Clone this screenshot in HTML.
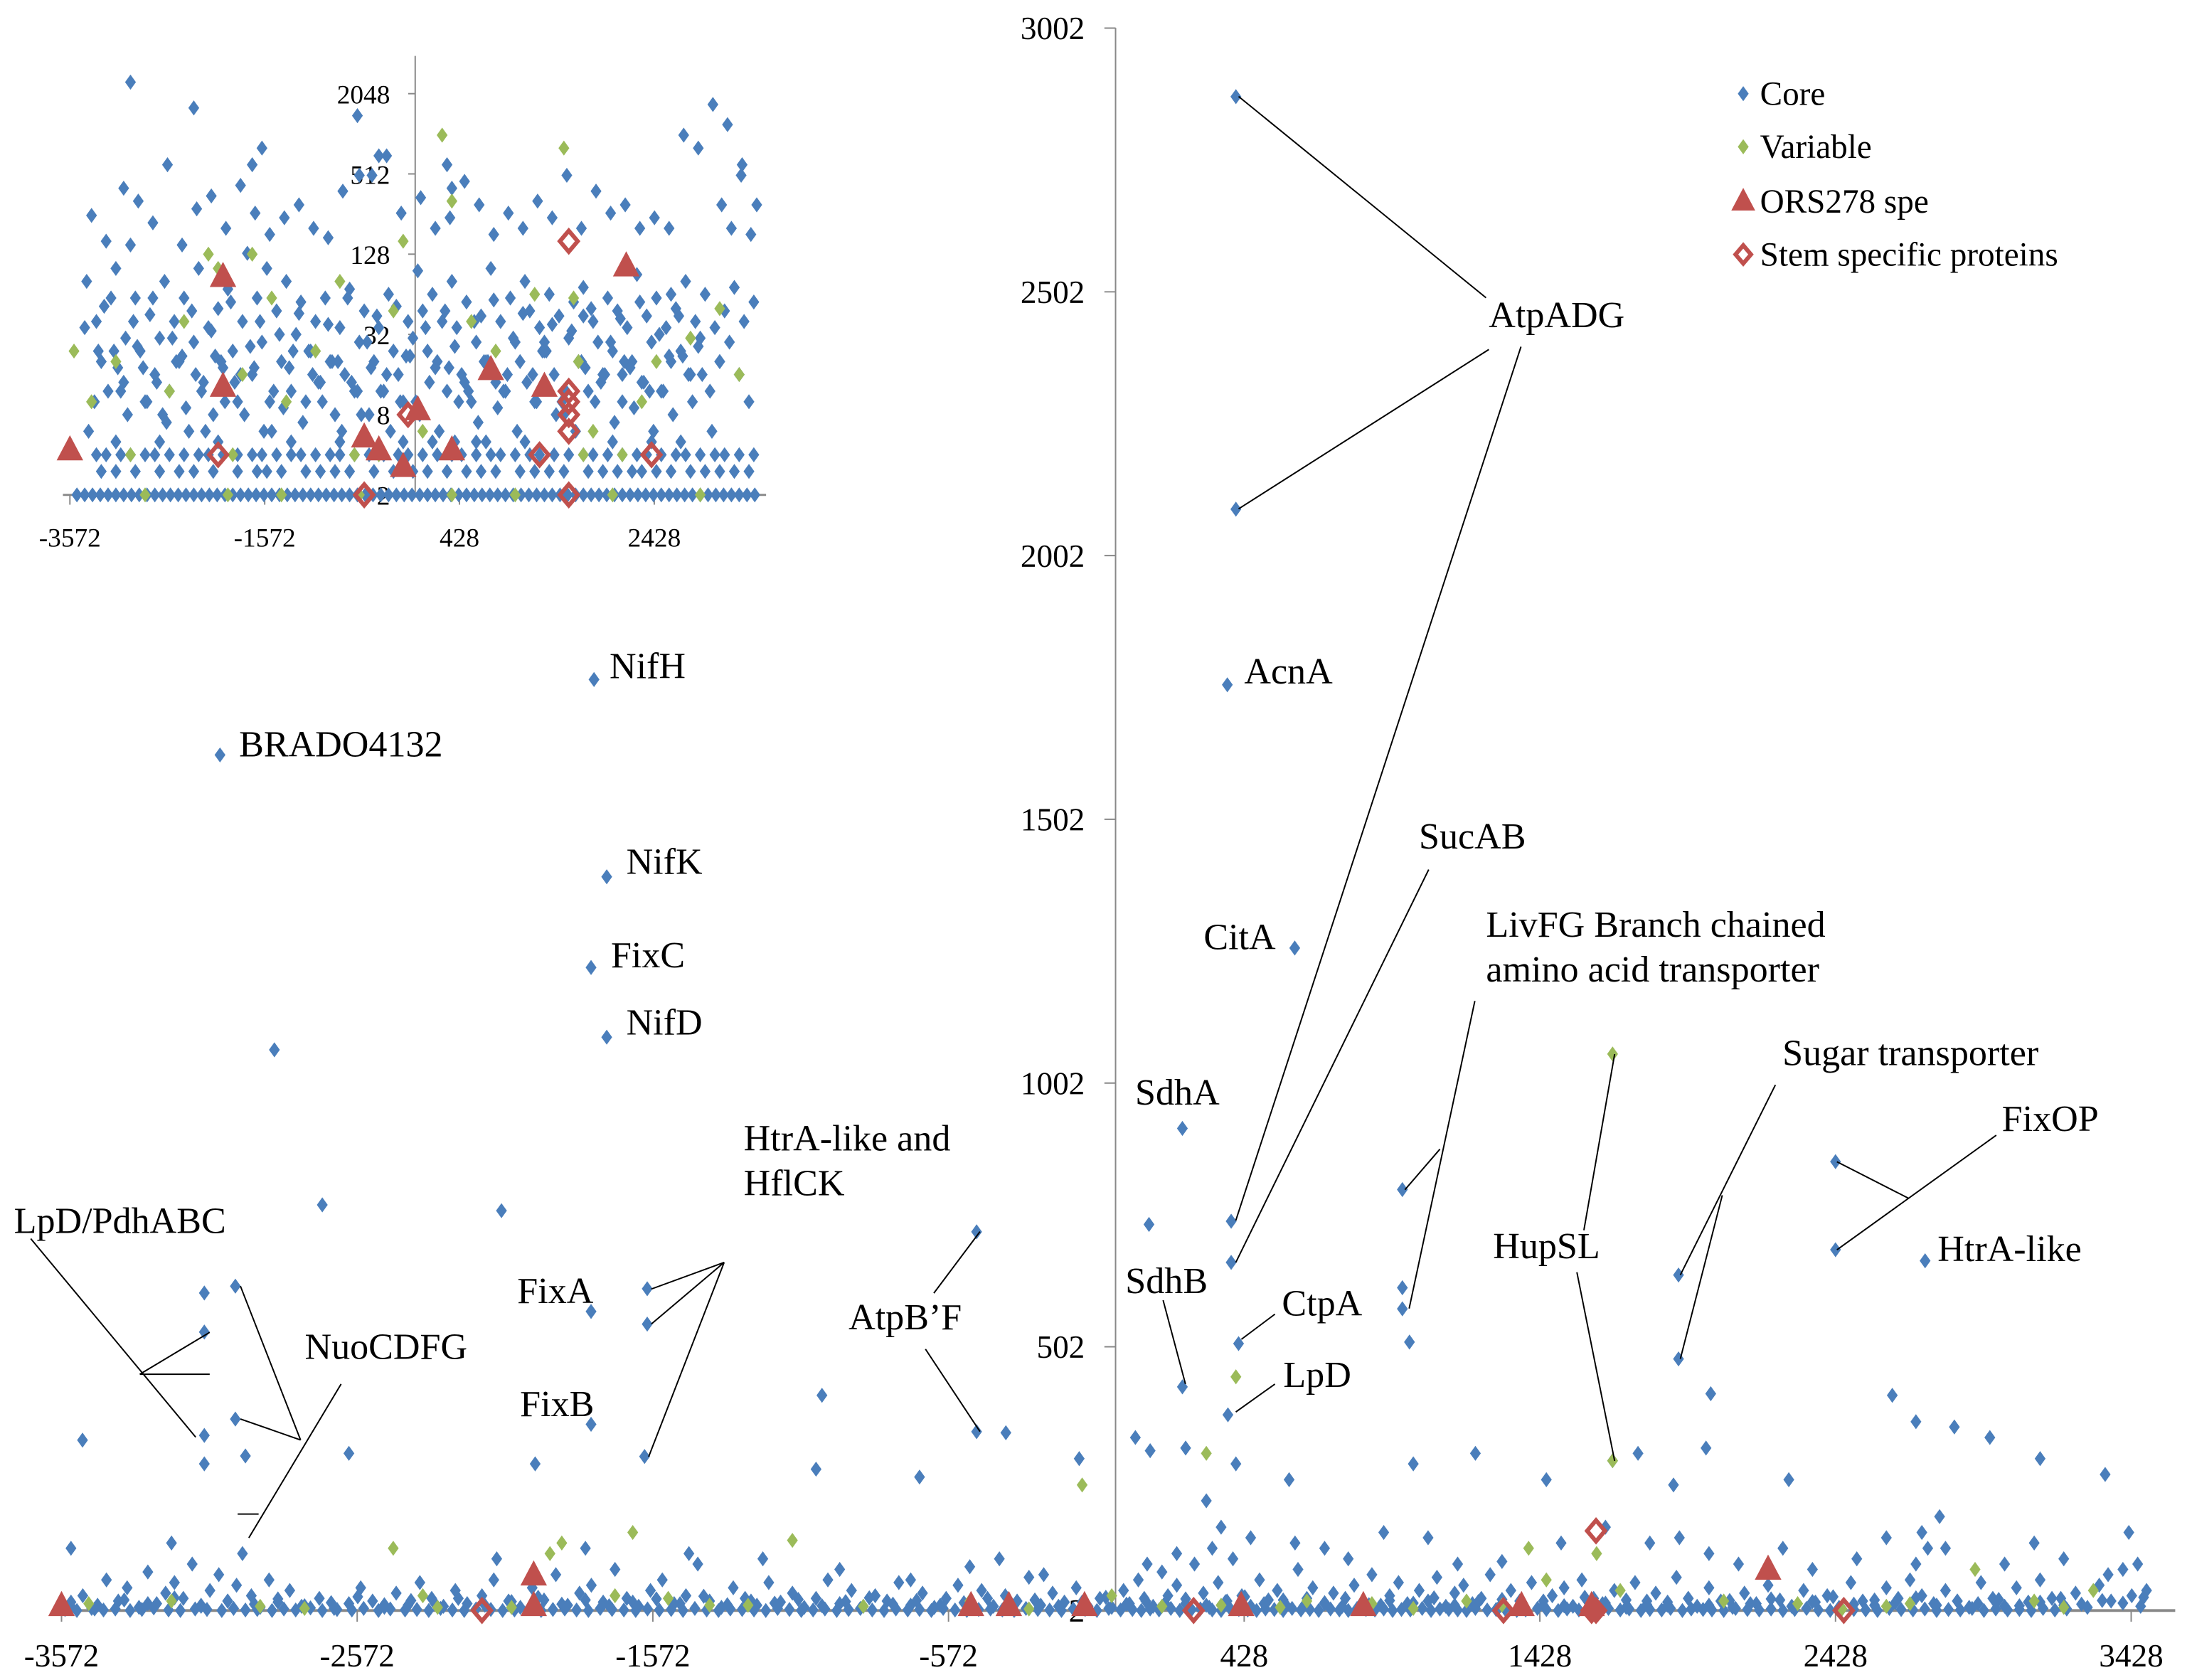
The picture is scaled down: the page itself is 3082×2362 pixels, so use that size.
<!DOCTYPE html>
<html><head><meta charset="utf-8"><title>Proteomics scatter</title>
<style>
html,body{margin:0;padding:0;background:#fff;}
svg{display:block;font-family:"Liberation Serif",serif;}
</style></head>
<body>
<svg id="chart" width="3082" height="2362" viewBox="0 0 1568 1201.7" xmlns="http://www.w3.org/2000/svg">
<g id="main-axes"></g>
<g id="main-marks"></g>
<g id="inset"></g>
<g id="annot"></g>
<g id="legend"></g>
</svg>
<script>
// ---------- MAIN CHART DATA ----------
const xTicks = [-3572,-2572,-1572,-572,428,1428,2428,3428];
const yTicks = [2,502,1002,1502,2002,2502,3002];
const coreHighX = [400,400,371,599,-1771,-3036,-1728,-1781,-1728,-2852,219,2428,2428,2731,106,-2690,-2084,-1591,-1591,-1600,-1781,-1781,-477,-477,-378,-3089,-3089,-3089,-3089,-2984,-2984,219,409,373,963,963,963,987,1674,1897,1897,2006,384,384];
const coreHighY = [2872,2090,1757,1258,1767,1624,1393,1221,1089,1065,916,853,686,665,734,771,760,612,545,294,569,355,720,341,339,604,530,334,280,617,365,426,508,373,800,614,574,511,286,638,479,413,740,662];
const coreMidX = [-3501,-2950,-2600,-1970,-1000,-1020,-670,-130,60,110,230,300,400,580,1000,1210,1450,1760,1880,1990,2270,2620,2700,2830,2950,3120,3340,-3540,-3200,-2100,-1800,-1450,-1200,-940,-700,-500,-400,-250,100,200,320,350,450,600,700,780,900,1050,1150,1300,1500,1650,1800,1900,2000,2100,2250,2350,2500,2600,2720,2780,2800,3000,3100,3200,3350,3420,3450];
const coreMidY = [325,295,300,280,410,270,255,290,330,305,310,210,280,250,280,300,250,300,240,310,250,410,360,350,330,290,260,120,130,100,120,110,100,80,60,85,100,70,90,110,120,160,140,130,120,100,150,140,90,95,130,160,130,140,110,90,120,80,100,140,150,180,120,90,130,100,70,150,90];
const coreLowX = [-3540,-3500,-3460,-3420,-3380,-3350,-3310,-3280,-3250,-3220,-3190,-3160,-3130,-3100,-3070,-3040,-3010,-2980,-2960,-2930,-2900,-2870,-2840,-2800,-2760,-2700,-2650,-2600,-2560,-2520,-2480,-2440,-2400,-2360,-2320,-2280,-2240,-2200,-2150,-2110,-2060,-2020,-1980,-1940,-1900,-1860,-1820,-1780,-1740,-1700,-1660,-1620,-1580,-1540,-1500,-1460,-1420,-1380,-1340,-1300,-1260,-1220,-1180,-1140,-1100,-1060,-1020,-980,-940,-900,-860,-820,-780,-740,-700,-660,-620,-580,-540,-500,-460,-420,-380,-340,-300,-260,-220,-180,-140,-100,-60,-20,20,40,70,90,120,150,170,200,230,260,290,310,340,370,390,420,450,480,510,540,570,610,640,660,700,730,760,800,830,860,890,920,950,980,1020,1050,1080,1110,1140,1170,1200,1230,1260,1290,1330,1360,1400,1440,1470,1510,1540,1570,1610,1640,1680,1720,1750,1790,1820,1860,1890,1930,1960,2000,2040,2080,2120,2160,2200,2240,2280,2320,2360,2400,2440,2480,2520,2560,2600,2640,2680,2700,2720,2740,2760,2800,2840,2880,2920,2960,3000,3040,3080,3120,3160,3200,3240,3280,3320,3360,3400,3430,3460,3480];
const coreLowY = [10,30,5,60,20,45,8,75,15,35,55,25,90,12,40,70,20,50,110,30,8,60,18,40,10,25,6,15,45,20,8,35,12,55,25,10,40,15,30,60,20,8,45,22,70,12,35,50,18,80,25,10,40,60,15,30,90,20,8,45,25,12,55,18,35,8,25,60,15,40,10,30,20,55,12,35,8,25,50,15,40,10,30,20,65,12,35,18,45,10,25,8,40,15,60,25,10,75,30,50,15,90,35,8,55,20,100,30,10,60,22,40,12,80,25,45,15,35,10,50,20,70,12,30,55,15,40,20,65,10,35,50,15,25,70,8,40,20,55,12,30,45,10,60,25,15,40,8,55,20,35,12,65,25,10,45,20,8,35,15,50,22,10,40,18,30,8,55,20,12,45,25,60,90,30,120,15,40,20,8,55,25,10,45,18,60,25,12,35,8,50,20,80,30,10,40];
const coreBaseX = [-3560,-3520,-3470,-3430,-3390,-3340,-3300,-3260,-3210,-3170,-3120,-3080,-3030,-2990,-2950,-2910,-2860,-2820,-2780,-2730,-2690,-2640,-2590,-2550,-2500,-2460,-2410,-2370,-2330,-2290,-2250,-2210,-2170,-2120,-2080,-2040,-1990,-1950,-1910,-1870,-1830,-1790,-1750,-1710,-1670,-1630,-1590,-1550,-1510,-1470,-1430,-1390,-1350,-1310,-1270,-1230,-1190,-1150,-1110,-1070,-1030,-990,-950,-910,-870,-830,-790,-750,-710,-670,-630,-590,-550,-510,-470,-430,-390,-350,-310,-270,-230,-190,-150,-110,-70,-30,10,50,80,110,140,180,210,250,280,320,350,380,410,440,470,500,530,560,590,620,650,680,720,750,780,810,840,870,900,930,960,990,1030,1060,1090,1120,1150,1180,1210,1250,1280,1310,1350,1380,1420,1450,1490,1520,1560,1590,1630,1660,1700,1730,1770,1800,1840,1870,1910,1940,1980,2010,2050,2090,2130,2170,2210,2250,2290,2330,2370,2410,2450,2490,2530,2570,2610,2650,2690,2730,2770,2810,2850,2890,2930,2970,3010,3050,3090,3130,3170,3210,3250,3290,3330,3370,3410,3450,3490];
const coreBaseY = [4,2,6,3,5,2,4,7,3,2,5,4,2,6,3,4,2,5,3,7,2,4,3,6,2,5,3,4,2,6,3,2,5,4,2,3,6,2,4,5,3,2,6,4,3,2,5,3,4,2,6,3,2,5,4,3,2,6,4,2,3,5,2,4,6,3,2,5,3,4,2,6,3,2,4,5,3,2,6,4,3,2,5,4,2,6,3,4,2,5,3,6,2,4,5,3,2,6,4,3,2,5,4,2,6,3,4,2,5,3,2,6,4,3,5,2,4,3,6,2,5,4,3,2,6,3,4,5,2,3,6,4,2,5,3,4,2,6,3,5,2,4,3,6,2,5,4,3,2,6,4,3,5,2,4,6,3,2,5,4,3,2,6,4,3,5,2,4,3,6,2,5,3,4,2,6,3,5];
const coreBase2X = [-3540,-3450,-3360,-3280,-3190,-3100,-3010,-2920,-2840,-2750,-2660,-2570,-2480,-2390,-2310,-2230,-2140,-2050,-1960,-1880,-1800,-1720,-1640,-1560,-1480,-1400,-1320,-1240,-1160,-1080,-1000,-920,-840,-760,-680,-600,-520,-440,-360,-280,-200,-120,-40,30,95,160,230,300,365,430,495,560,630,700,770,850,920,1000,1070,1140,1220,1300,1370,1440,1510,1580,1650,1720,1790,1860,1930,2000,2070,2140,2210,2280,2350,2420,2490,2560,2630,2700,2770,2840,2910,2980,3050,3120,3190,3260,3330,3400,3470];
const coreBase2Y = [18,12,22,15,26,10,20,14,24,11,17,28,13,21,16,25,12,19,27,14,22,11,18,24,15,29,13,20,16,23,11,19,26,14,21,12,17,25,15,22,10,18,27,14,20,16,24,12,19,28,15,22,11,17,25,13,21,16,26,12,19,23,14,20,11,27,16,22,13,18,25,12,21,15,24,10,19,28,14,22,17,26,12,20,15,23,11,18,25,14,21,16,27];
const varX = [-3480,-3200,-2450,-2300,-1920,-1880,-1640,-1520,-1380,-1100,-860,-120,-20,300,350,640,860,1180,1390,1620,1674,1674,1700,2050,2300,2680,2900,3100,3300,400,-2350,1450,-500,-1700,-2900,-2750,-2050,-1250,-300,150,550,1000,1300,2450,2600,3200];
const varY = [15,20,120,8,110,130,150,25,12,135,10,240,30,300,12,20,15,20,120,110,1057,286,40,20,15,15,80,20,40,445,30,60,20,30,10,6,8,12,5,10,8,6,12,5,10,8];
const oriX = [-3572,-1975,-1975,-496,-368,-112,418,831,1366,1603,2200];
const oriY = [2,60,2,2,2,2,2,2,2,2,71];
const stemX = [-2150,257,1305,1603,1618,1618,2456];
const stemY = [2,2,2,2,153,2,2];

// ---------- INSET DATA (log2 y) ----------
const insetXTicks = [-3572,-1572,428,2428];
const insetYTicks = [2,8,32,128,512,2048];
const inCoreX = [-3400,-3300,-3250,-3150,-3100,-3050,-3000,-2950,-2900,-2850,-2800,-2750,-2700,-2650,-2600,-2550,-2500,-2450,-2400,-2350,-2300,-2250,-2200,-2150,-2100,-2050,-2000,-1950,-1900,-1850,-1800,-1750,-1700,-1650,-1600,-1550,-1500,-1450,-1400,-1350,-1300,-1250,-1200,-1150,-1100,-1050,-1000,-950,-900,-850,-800,-750,-700,-650,-600,-550,-500,-450,-400,-350,-300,-250,-200,-150,-100,-50,0,50,100,150,200,250,300,350,400,450,500,550,600,650,700,750,800,850,900,950,1000,1050,1100,1150,1200,1250,1300,1350,1400,1450,1500,1550,1600,1650,1700,1750,1800,1850,1900,1950,2000,2050,2100,2150,2200,2250,2300,2350,2400,2450,2500,2550,2600,2650,2700,2750,2800,2850,2900,2950,3000,3050,3100,3150,3200,3250,3300,3350,3400,3450,-3380,-3280,-3180,-3080,-2980,-2880,-2780,-2680,-2580,-2480,-2380,-2280,-2180,-2080,-1980,-1880,-1780,-1680,-1580,-1480,-1380,-1280,-1180,-1080,-980,-880,-780,-680,-580,-480,-380,-280,-180,-80,20,120,220,320,420,520,620,720,820,920,1020,1120,1220,1320,1420,1520,1620,1720,1820,1920,2020,2120,2220,2320,2420,2520,2620,2720,2820,2920,3020,3120,3220,3320,3420,-3350,-3200,-3020,-2870,-2720,-2570,-2420,-2270,-2120,-1970,-1820,-1670,-1520,-1370,-1220,-1070,-920,-770,-620,-470,-320,-170,30,180,330,480,630,780,930,1080,1230,1380,1530,1680,1830,1980,2130,2280,2430,2580,2730,2880,3030,3180,3330,3480,-2950,-2300,-1700,-1600,-600,-400,300,350,380,700,1100,2000,2400,2700,-3100,-2650,-2050,-1300,-800,-150,150,600,900,1300,1700,2100,2600,3100,-3420,-3320,-3220,-3120,-3020,-2920,-2820,-2720,-2620,-2520,-2420,-2320,-2220,-2120,-2020,-1920,-1820,-1720,-1620,-1520,-1420,-1320,-1220,-1120,-1020,-920,-820,-720,-620,-520,-420,-320,-220,-120,-20,80,180,280,380,480,580,680,780,880,980,1080,1180,1280,1380,1480,1580,1680,1780,1880,1980,2080,2180,2280,2380,2480,2580,2680,2780,2880,2980,3080,3180,3280,3380,3480];
const inCoreY = [80,40,20,60,100,12,30,150,60,24,10,45,16,30,80,12,40,20,60,6,28,100,14,36,8,50,18,70,24,10,40,130,16,60,28,100,6,48,20,80,12,32,56,10,24,40,14,60,20,8,36,16,70,12,28,48,8,20,36,12,64,24,16,10,40,30,96,48,24,64,20,40,12,80,36,16,56,10,28,44,20,100,14,40,12,60,28,20,80,48,10,36,24,64,16,44,8,30,56,20,72,12,40,28,16,60,24,48,10,36,20,90,14,44,28,60,12,36,20,50,24,80,16,40,30,64,12,36,20,48,28,72,16,40,10,56,6,24,12,18,8,26,10,14,7,20,9,16,6,22,10,14,8,18,6,12,9,24,7,16,10,20,6,14,8,18,12,6,10,22,8,14,6,18,10,12,7,20,9,16,6,14,10,24,8,12,6,18,10,16,7,20,9,14,6,12,8,22,10,16,6,300,200,500,180,250,160,400,320,220,600,150,280,350,200,420,260,180,240,300,200,170,380,1400,500,700,260,340,200,240,450,300,180,260,200,320,240,500,200,380,260,300,200,240,200,1000,800,1700,1200,600,300,2500,1600,600,800,500,700,600,400,5,5,5,5,5,5,5,5,5,5,5,5,5,5,12,28,44,16,64,20,36,10,52,24,14,40,18,60,8,30,22,48,12,34,20,56,16,26,40,10,32,18,46,24,14,38,20,60,12,28,44,16,52,22,10,36,18,48,26,14,40,20,58,12,30,46,16,24,38,10,34,20,50,14,28,42,18,56,12,32,22,44,16,26];
const inBase2X = [-3500,-3420,-3340,-3260,-3180,-3100,-3020,-2940,-2860,-2780,-2700,-2620,-2540,-2460,-2380,-2300,-2220,-2140,-2060,-1980,-1900,-1820,-1740,-1660,-1580,-1500,-1420,-1340,-1260,-1180,-1100,-1020,-940,-860,-780,-700,-620,-540,-460,-380,-300,-220,-140,-60,20,100,180,260,340,420,500,580,660,740,820,900,980,1060,1140,1220,1300,1380,1460,1540,1620,1700,1780,1860,1940,2020,2100,2180,2260,2340,2420,2500,2580,2660,2740,2820,2900,2980,3060,3140,3220,3300,3380,3460];
const inBase4X = [-3300,-3200,-3050,-2950,-2800,-2700,-2550,-2400,-2250,-2150,-2000,-1850,-1700,-1600,-1450,-1300,-1200,-1050,-900,-800,-650,-500,-350,-200,-100,50,200,350,450,600,750,850,1000,1150,1250,1400,1550,1700,1800,1950,2100,2250,2350,2500,2650,2750,2900,3050,3150,3300,3450];
const inBase3X = [-3250,-3100,-2900,-2650,-2450,-2300,-2100,-1850,-1650,-1550,-1400,-1150,-1000,-850,-700,-450,-250,-50,100,300,500,650,800,1050,1200,1350,1500,1750,1900,2050,2200,2300,2450,2600,2800,2950,3100,3250,3400];
const inVarX = [-3530,-3350,-3100,-2950,-2550,-2400,-2150,-2050,-1900,-1800,-1700,-1500,-1350,-1050,-800,-650,-400,-250,-150,50,250,350,550,800,1200,1500,1600,1650,1700,1800,2100,2300,2450,2800,3100,3300,-2800,-1950,-1400,-600,350,1000,2000,2900];
const inVarY = [24,10,20,4,12,40,128,100,4,16,128,60,10,24,80,4,4,48,160,6,1000,320,40,24,64,800,60,20,4,6,4,10,20,30,50,16,2,2,2,2,2,2,2,2];
const inOriX = [-3572,-2000,-2000,-550,-400,-150,0,350,750,1300,2140];
const inOriY = [4,80,12,5,4,3,8,4,16,12,96];
const inStemX = [-2050,-550,-100,1250,1550,1550,1550,1550,1550,1550,2400];
const inStemY = [4,2,8,4,160,12,10,8,6,2,4];

// ---------- SCALES ----------
const NS='http://www.w3.org/2000/svg';
function mx(v){return 44+(v+3572)*0.2115;}
function my(v){return 1152-(v-2)*0.3773;}
function ix(v){return 50+(v+3572)*0.06967;}
function iy(v){return 354-(Math.log2(v)-1)*28.7;}
const C_CORE='#4a7ebb',C_VAR='#9bbb59',C_RED='#c0504d';
const R=5.4;
function mk(tag,attrs,parent){const e=document.createElementNS(NS,tag);for(const k in attrs)e.setAttribute(k,attrs[k]);parent.appendChild(e);return e;}
function diamond(x,y,r,fill,parent){return mk('path',{d:`M${x} ${y-r}L${x+r*0.72} ${y}L${x} ${y+r}L${x-r*0.72} ${y}Z`,fill:fill},parent);}
function tri(x,y,parent,s){return mk('path',{d:`M${x} ${y-14*s}L${x+9.5*s} ${y+4*s}L${x-9.5*s} ${y+4*s}Z`,fill:C_RED},parent);}
function odiamond(x,y,r,parent){return mk('path',{d:`M${x} ${y-r}L${x+r*0.85} ${y}L${x} ${y+r}L${x-r*0.85} ${y}Z`,fill:'none',stroke:C_RED,'stroke-width':3},parent);}
function txt(x,y,s,size,anchor,parent){const t=mk('text',{x:x,y:y,'font-size':size,'text-anchor':anchor||'start',fill:'#000'},parent);t.textContent=s;return t;}

// ---------- MAIN AXES ----------
const ax=document.getElementById('main-axes');
let yl=mk('line',{x1:798,y1:20,x2:798,y2:1152,stroke:'#888','stroke-width':1},ax);


let xl=mk('line',{x1:38,y1:1152,x2:1556,y2:1152,stroke:'#888','stroke-width':2},ax);


yTicks.forEach(v=>{const y=my(v);
 const tk=mk('line',{x1:790,y1:y,x2:798,y2:y,stroke:'#888'},ax);
 
 
 const t=txt(776,y+8,String(v),23,'end',ax);
 
 });
xTicks.forEach(v=>{const x=mx(v);
 const tk=mk('line',{x1:x,y1:1152,x2:x,y2:1160,stroke:'#888'},ax);
 
 
 const t=txt(x,1192,String(v),23,'middle',ax);
 
 });

// ---------- MAIN MARKS ----------
const mm=document.getElementById('main-marks');
function plotCore(X,Y){X.forEach((v,i)=>{const d=diamond(mx(v),my(Y[i]),R,C_CORE,mm);
 
 });}
plotCore(coreBaseX,coreBaseY);plotCore(coreBase2X,coreBase2Y);plotCore(coreLowX,coreLowY);plotCore(coreMidX,coreMidY);plotCore(coreHighX,coreHighY);
varX.forEach((v,i)=>{const d=diamond(mx(v),my(varY[i]),R,C_VAR,mm);
 
 });
oriX.forEach((v,i)=>{const d=tri(mx(v),my(oriY[i]),mm,1);
 
 });
stemX.forEach((v,i)=>{const d=odiamond(mx(v),my(stemY[i]),7.5,mm);
 
 });

// ---------- INSET ----------
const ins=document.getElementById('inset');
let iyl=mk('line',{x1:297,y1:40,x2:297,y2:356,stroke:'#888'},ins);


let ixl=mk('line',{x1:45,y1:354,x2:548,y2:354,stroke:'#888','stroke-width':1.5},ins);


insetYTicks.forEach(v=>{const y=iy(v);
 const tk=mk('line',{x1:292,y1:y,x2:297,y2:y,stroke:'#888'},ins);
 
 
 const t=txt(279,y+7,String(v),19,'end',ins);
 
 });
insetXTicks.forEach(v=>{const x=ix(v);
 const tk=mk('line',{x1:x,y1:354,x2:x,y2:361,stroke:'#888'},ins);
 
 
 const t=txt(x,391,String(v),19,'middle',ins);
 
 });
function inCore(X,yv){X.forEach((v,i)=>{const d=diamond(ix(v),iy(Array.isArray(yv)?yv[i]:yv),R,C_CORE,ins);
 
 });}
inCore(inBase2X,2);inCore(inBase3X,3);inCore(inBase4X,4);inCore(inCoreX,inCoreY);
inVarX.forEach((v,i)=>{const d=diamond(ix(v),iy(inVarY[i]),R,C_VAR,ins);
 
 });
inOriX.forEach((v,i)=>{const d=tri(ix(v),iy(inOriY[i]),ins,1);
 
 });
inStemX.forEach((v,i)=>{const d=odiamond(ix(v),iy(inStemY[i]),7.5,ins);
 
 });

// ---------- ANNOTATIONS ----------
const an=document.getElementById('annot');
const labels=[["AtpADG",1065,234],["AcnA",890,489],["CitA",861,679],["SdhA",812,790],["SdhB",805,925],["CtpA",917,941],["LpD",918,992],["SucAB",1015,607],["LivFG Branch chained",1063,670],["amino acid transporter",1063,702],["HupSL",1068,900],["Sugar transporter",1275,762],["FixOP",1432,809],["HtrA-like",1386,902],["NifH",436,485],["BRADO4132",171,541],["NifK",448,625],["FixC",437,692],["NifD",448,740],["HtrA-like  and",532,823],["HflCK",532,855],["FixA",370,932],["FixB",372,1013],["AtpB\u2019F",607,951],["LpD/PdhABC",10,882],["NuoCDFG",218,972]];
labels.forEach(l=>{const t=txt(l[1],l[2],l[0],26.5,'start',an);
 
 });
const lines=[[1063,213,886,69],[1065,250,886,364],[1088,248,884,873],[1022,622,884,903],[1055,716,1008,936],[1030,822,1005,851],[1133,880,1155,754],[1128,910,1155,1045],[1270,776,1202,912],[1232,855,1202,972],[1428,812,1314,894],[1314,831,1365,857],[832,930,848,990],[912,940,888,958],[912,990,884,1010],[518,903,466,922],[518,903,466,947],[518,903,464,1042],[668,925,701,881],[662,965,701,1024],[22,886,140,1028],[100,983,150,953],[100,983,150,983],[215,1030,172,920],[215,1030,172,1015],[244,990,178,1100],[170,1083,185,1083]];
lines.forEach(l=>{const e=mk('line',{x1:l[0],y1:l[1],x2:l[2],y2:l[3],stroke:'#000','stroke-width':1},an);
 
 });

// ---------- LEGEND ----------
const lg=document.getElementById('legend');
const le=[["Core",75],["Variable",113],["ORS278 spe",152],["Stem specific proteins",190]];
le.forEach((l,i)=>{const g=mk('g',{},lg);
 
 
 const y=l[1]-8;
 if(i===0)diamond(1247,y,R,C_CORE,g);
 if(i===1)diamond(1247,y,R,C_VAR,g);
 if(i===2)tri(1247,y+3,g,0.9);
 if(i===3)odiamond(1247,y,6.5,g);
 txt(1259,l[1],l[0],24,'start',g);});
</script>
</body></html>
